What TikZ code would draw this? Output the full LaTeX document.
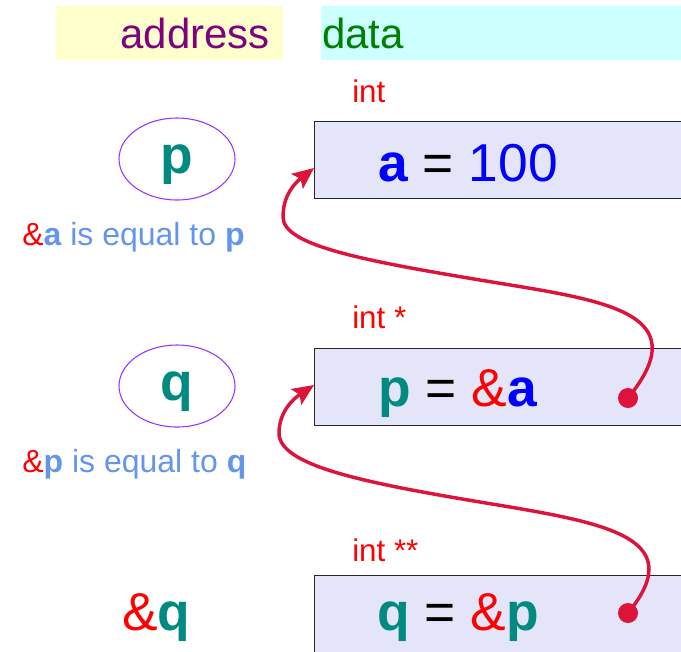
\documentclass[tikz,border=0pt]{standalone}
\usepackage{fontspec}
\setmainfont{Liberation Sans}
\usetikzlibrary{shapes.geometric,arrows.meta,calc}
\definecolor{addrbg}{HTML}{FFFFCC}
\definecolor{databg}{HTML}{CCFFFF}
\definecolor{addrfg}{HTML}{800080}
\definecolor{datafg}{HTML}{008000}
\definecolor{boxbg}{HTML}{E4E5F8}
\definecolor{tealc}{HTML}{008A80}
\definecolor{bluec}{HTML}{0000FF}
\definecolor{redc}{HTML}{FF0000}
\definecolor{cornc}{HTML}{6495ED}
\definecolor{ellc}{HTML}{9933FF}
\definecolor{arrc}{HTML}{DC143C}
\begin{document}
\begin{tikzpicture}[x=0.75pt,y=-0.75pt,
 txt/.style={inner sep=0pt, anchor=base west},
 hdr/.style={txt, font=\fontsize{31.5}{36}\selectfont},
 typ/.style={txt, text=redc, font=\fontsize{23.5}{28}\selectfont},
 val/.style={txt, font=\fontsize{40}{46}\selectfont},
 note/.style={txt, text=cornc, font=\fontsize{24}{28}\selectfont},
 band/.style={anchor=north west, minimum height=40.5pt, inner sep=0pt},
 cell/.style={draw=black!85, line width=0.9pt, fill=boxbg, anchor=north west, minimum width=282pt, minimum height=57.75pt, inner sep=0pt},
 addr/.style={ellipse, draw=ellc, line width=0.8pt, minimum width=87pt, minimum height=61.5pt, inner sep=0pt, text depth=0pt, text=tealc, font=\fontsize{40}{46}\selectfont\bfseries},
 ptr/.style={draw=arrc, line width=2.6pt, -{Stealth[length=16pt,width=14pt,inset=3pt]}},
 dotc/.style={circle, fill=arrc, inner sep=0pt, minimum size=15pt}
]
\useasboundingbox (0,0) rectangle (681,651);
\clip (0,0) rectangle (681,651);

% header bands
\node[band, fill=addrbg, minimum width=170.25pt] (addrbox) at (56,6) {};
\node[band, fill=databg, minimum width=270pt] (databox) at (321,6) {};
\node[hdr, text=addrfg, anchor=base east] (addrlbl) at (270,48) {address};
\node[hdr, text=datafg] (datalbl) at (322,48) {data};

% type labels
\node[typ] (ty1) at (352,102) {int};
\node[typ] (ty2) at (352,328) {int *};
\node[typ] (ty3) at (352,561) {int **};

% cells
\node[cell] (box1) at (314,121) {};
\node[cell] (box2) at (314,348) {};
\node[cell] (box3) at (314,575) {};

\node[val] (v1) at (378,181) {{\bfseries\color{bluec}a} = {\color{bluec}100}};
\node[val] (v2) at (378,406) {{\bfseries\color{tealc}p} = {\color{redc}\&}{\bfseries\color{bluec}a}};
\node[val] (v3) at (377,630) {{\bfseries\color{tealc}q} = {\color{redc}\&}{\bfseries\color{tealc}p}};

% address ellipses
\node[addr] (ep) at (177,159) {p};
\node[addr] (eq) at (177,386) {q};

\node[note] (n1) at (22,245) {{\color{redc}\&}{\bfseries a} is equal to {\bfseries p}};
\node[note] (n2) at (22,472) {{\color{redc}\&}{\bfseries p} is equal to {\bfseries q}};

\node[val] (aq) at (122,630) {{\color{redc}\&}{\bfseries\color{tealc}q}};

% pointer arrows
\coordinate (t1) at ($(box1.north west)+(0,47)$);
\coordinate (t2) at ($(box2.north west)+(0,37)$);
\node[dotc] (d1) at (628,398) {};
\node[dotc] (d2) at (628,613) {};

\draw[ptr] (d1.center) .. controls (700,310) and (600,300) .. (480,280)
  .. controls (360,260) and (283,245) .. (283,217)
  .. controls (283,195) and (295,183) .. (t1);
\draw[ptr] (d2.center) .. controls (692,535) and (600,522) .. (480,502)
  .. controls (360,482) and (279,465) .. (279,433)
  .. controls (279,412) and (293,399) .. (t2);
\end{tikzpicture}
\end{document}
